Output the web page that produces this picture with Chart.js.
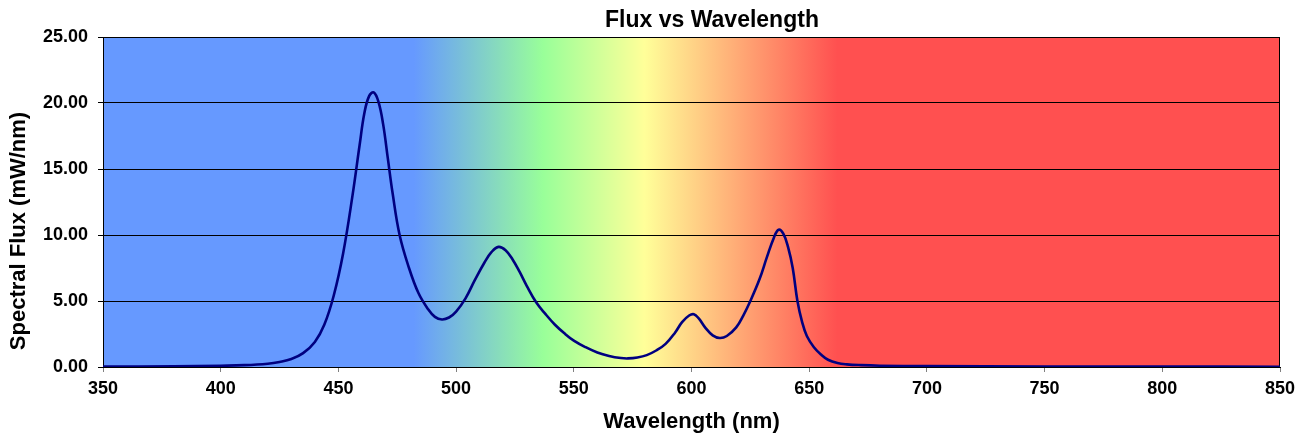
<!DOCTYPE html>
<html>
<head>
<meta charset="utf-8">
<script src="https://cdn.jsdelivr.net/npm/chart.js@4"></script>
<style>
  html, body { margin: 0; padding: 0; background: #ffffff; }
  #wrap { width: 1305px; height: 436px; }
</style>
</head>
<body>
<div id="wrap"><canvas id="c" width="1305" height="436"></canvas></div>
<script>
// ---- data ----
const chartTitle = "Flux vs Wavelength";
const xAxisTitle = "Wavelength (nm)";
const yAxisTitle = "Spectral Flux (mW/nm)";

const wavelength = [
  350, 380, 400, 410, 420, 425, 430, 435, 440, 444, 448, 452, 456, 459, 461, 463, 465, 467, 469, 471,
  473, 476, 480, 484, 488, 491, 494, 497, 500, 504, 508, 512, 515, 518, 521, 524, 527, 530, 534, 538,
  542, 546, 550, 555, 560, 565, 570, 573, 577, 581, 585, 589, 593, 596, 599, 601, 603, 606, 609, 612,
  615, 619, 622, 625, 629, 632, 635, 637, 639, 641, 643, 645, 647, 649, 652, 655, 658, 662, 666, 672,
  680, 700, 750, 800, 850
];
const flux = [
  0.04, 0.05, 0.10, 0.14, 0.25, 0.38, 0.60, 1.05, 1.90, 3.20, 5.40, 8.60, 13.0, 16.8, 19.2, 20.5, 20.8, 20.1, 18.4, 15.8,
  13.2, 10.0, 7.50, 5.60, 4.40, 3.80, 3.60, 3.75, 4.20, 5.20, 6.60, 7.90, 8.70, 9.10, 8.85, 8.15, 7.20, 6.15, 4.90, 4.00,
  3.20, 2.55, 2.00, 1.50, 1.10, 0.84, 0.68, 0.65, 0.72, 0.90, 1.25, 1.75, 2.60, 3.40, 3.90, 4.00, 3.70, 2.95, 2.40, 2.20,
  2.35, 3.00, 3.90, 5.00, 6.70, 8.30, 9.80, 10.40, 10.10, 9.10, 7.50, 5.00, 3.40, 2.35, 1.50, 0.95, 0.55, 0.30, 0.20, 0.14,
  0.10, 0.07, 0.04, 0.03, 0.02
];

const xMin = 350, xMax = 850, xStep = 50;
const yMin = 0, yMax = 25, yStep = 5;

// ---- styling ----
const FONT = "'Liberation Sans', Arial, Helvetica, sans-serif";
const spectrumStops = [   // [wavelength, colour] for the plot background
  [482, 'rgb(102,153,255)'],
  [537, 'rgb(153,255,153)'],
  [580, 'rgb(255,255,153)'],
  [662, 'rgb(255,80,80)']
];

const points = wavelength.map((w, i) => ({ x: w, y: flux[i] }));

const spectrumBg = {
  id: 'spectrumBg',
  beforeDraw(chart) {
    const { ctx, chartArea: a, scales: { x } } = chart;
    const g = ctx.createLinearGradient(a.left, 0, a.right, 0);
    const w = a.right - a.left;
    spectrumStops.forEach(([wl, col]) => {
      const p = (x.getPixelForValue(wl) - a.left) / w;
      g.addColorStop(Math.min(1, Math.max(0, p)), col);
    });
    ctx.save();
    ctx.fillStyle = g;
    ctx.fillRect(a.left, a.top, w, a.bottom - a.top);
    ctx.restore();
  },
  beforeDatasetsDraw(chart) {
    const { ctx, chartArea: a } = chart;
    ctx.save();
    ctx.strokeStyle = '#000000';
    ctx.lineWidth = 1;
    ctx.strokeRect(a.left + 0.5, a.top + 0.5, a.right - a.left - 1, a.bottom - a.top);
    ctx.restore();
  },
  afterDraw(chart) {
    const { ctx, chartArea: a } = chart;
    ctx.save();
    ctx.fillStyle = '#000000';
    ctx.textAlign = 'center';
    ctx.textBaseline = 'middle';
    ctx.font = 'bold 23px ' + FONT;
    ctx.fillText(chartTitle, 712, 21);
    ctx.font = 'bold 22px ' + FONT;
    ctx.fillText(xAxisTitle, (a.left + a.right) / 2, 422);
    ctx.translate(19, 231);
    ctx.rotate(-Math.PI / 2);
    ctx.fillText(yAxisTitle, 0, 0);
    ctx.restore();
  }
};

new Chart(document.getElementById('c'), {
  type: 'line',
  data: {
    datasets: [{
      data: points,
      borderColor: '#000080',
      borderWidth: 2.6,
      pointRadius: 0,
      fill: false,
      tension: 0.4
    }]
  },
  options: {
    responsive: false,
    animation: false,
    devicePixelRatio: 1,
    layout: { padding: { top: 37, right: 25, left: 0, bottom: 0 } },
    plugins: { legend: { display: false }, title: { display: false }, tooltip: { enabled: false } },
    scales: {
      x: {
        type: 'linear',
        min: xMin, max: xMax,
        afterFit(s) { s.height = 69; },
        ticks: {
          stepSize: xStep,
          color: '#000000',
          font: { family: FONT, size: 18, weight: 'bold' },
          padding: 6,
          maxRotation: 0,
          callback: v => String(v)
        },
        grid: { drawOnChartArea: false, drawTicks: true, tickLength: 5, color: '#808080' },
        border: { display: true, color: '#000000' }
      },
      y: {
        min: yMin, max: yMax,
        afterFit(s) { s.width = 103; },
        ticks: {
          stepSize: yStep,
          color: '#000000',
          font: { family: FONT, size: 18, weight: 'bold' },
          padding: 10,
          callback: v => Number(v).toFixed(2)
        },
        grid: { color: '#000000', lineWidth: 1, drawTicks: true, tickLength: 5 },
        border: { display: true, color: '#000000' }
      }
    }
  },
  plugins: [spectrumBg]
});
</script>
</body>
</html>
